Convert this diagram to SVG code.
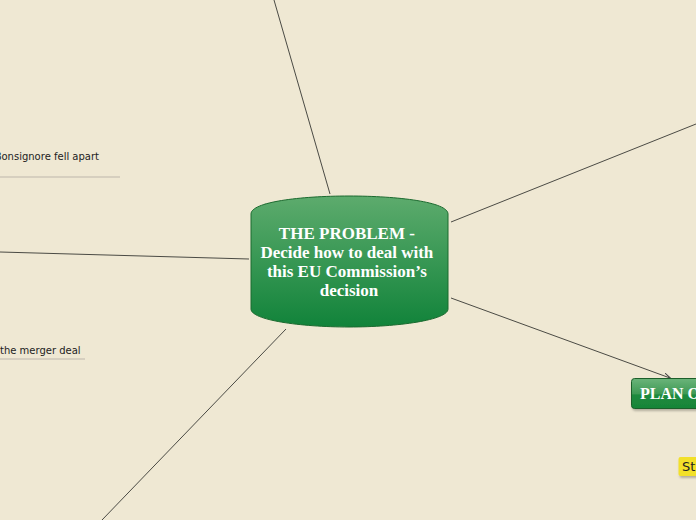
<svg xmlns="http://www.w3.org/2000/svg" width="696" height="520" viewBox="0 0 696 520">
<defs>
<linearGradient id="gMain" x1="0" y1="0" x2="0" y2="1">
<stop offset="0" stop-color="#5dab6d"/>
<stop offset="1" stop-color="#11833a"/>
</linearGradient>
<linearGradient id="gPlan" x1="0" y1="0" x2="0" y2="1">
<stop offset="0" stop-color="#6bb47a"/>
<stop offset="0.5" stop-color="#3f9a55"/>
<stop offset="0.55" stop-color="#1f8a3e"/>
<stop offset="1" stop-color="#178538"/>
</linearGradient>
<marker id="arr" viewBox="0 0 10 10" refX="9" refY="5" markerWidth="7" markerHeight="7" orient="auto">
<path d="M0,1 L10,5 L0,9" fill="none" stroke="#444" stroke-width="1.5"/>
</marker>
<filter id="sh" x="-10%" y="-10%" width="130%" height="140%">
<feDropShadow dx="1" dy="2" stdDeviation="1" flood-color="#000" flood-opacity="0.25"/>
</filter>
</defs>
<style>
.conn{stroke:#4a4a44;stroke-width:1;fill:none}
.title{font-family:"Liberation Serif","Times New Roman",serif;font-weight:bold;fill:#fff}
.sub{font-family:"DejaVu Sans",Verdana,sans-serif;font-size:10px;fill:#222}
.ul{stroke:#d6cfbf;stroke-width:2}
</style>
<rect width="696" height="520" fill="#efe8d3"/>
<g id="connectors">
<line class="conn" x1="330" y1="194" x2="274" y2="0"/>
<line class="conn" x1="451" y1="222" x2="696" y2="124"/>
<line class="conn" x1="249" y1="259" x2="0" y2="252"/>
<line class="conn" x1="451" y1="298" x2="670" y2="378" marker-end="url(#arr)"/>
<line class="conn" x1="286" y1="329" x2="102" y2="520"/>
</g>
<g id="node-problem">
<path d="M251,214 C251,202 300,196 349,196 C398,196 448,202 448,214 L448,309 C448,320 398,327 349,327 C300,327 251,320 251,309 Z" fill="url(#gMain)" stroke="#1b6a2f" stroke-width="1"/>
<text class="title" font-size="17" text-anchor="middle">
<tspan x="349" y="239">THE PROBLEM -</tspan>
<tspan x="349" y="258">Decide how to deal with</tspan>
<tspan x="349" y="277">this EU Commission’s</tspan>
<tspan x="349" y="296">decision</tspan>
</text>
</g>
<g id="node-plan">
<rect x="631.5" y="378.5" width="80" height="30" rx="3" fill="url(#gPlan)" stroke="#1b5e2b" filter="url(#sh)"/>
<text class="title" font-size="16" x="640" y="399">PLAN O</text>
</g>
<g id="node-st">
<rect x="678.5" y="457" width="30" height="19" rx="2" fill="#f2e02a" filter="url(#sh)"/>
<text x="682" y="471" font-family="'DejaVu Sans',Verdana,sans-serif" font-size="13" fill="#222">St</text>
</g>
<g id="node-bonsignore">
<text class="sub" x="99" y="160" text-anchor="end">Bonsignore fell apart</text>
<line class="ul" x1="0" y1="177" x2="120" y2="177"/>
</g>
<g id="node-merger">
<text class="sub" x="0" y="354">the merger deal</text>
<line class="ul" x1="0" y1="359" x2="85" y2="359"/>
</g>
</svg>
